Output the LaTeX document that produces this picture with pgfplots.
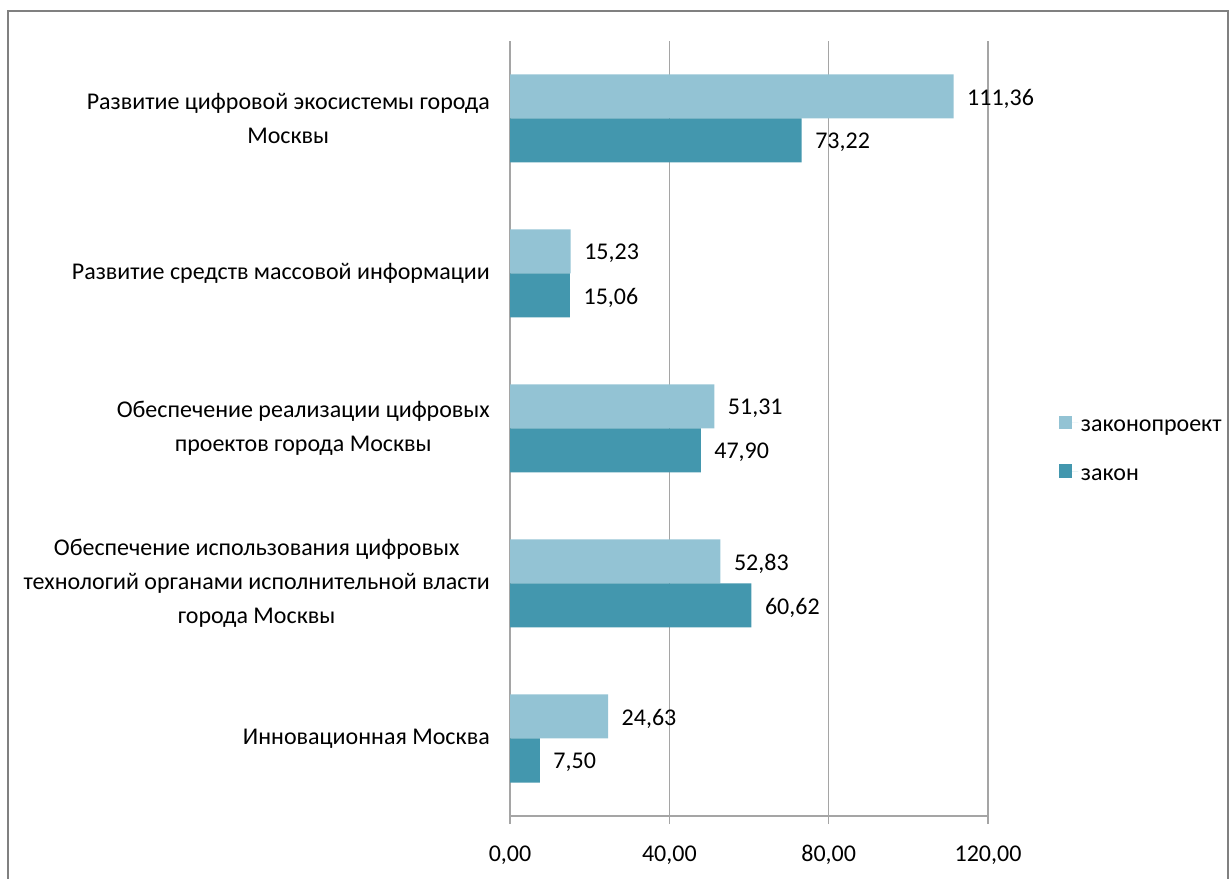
\documentclass[border=0pt]{standalone}
\usepackage{pgfplots}
\pgfplotsset{compat=1.18}
\usepackage{fontspec}
\setmainfont{Carlito}

\definecolor{lightbar}{RGB}{147,195,212}
\definecolor{darkbar}{RGB}{67,151,174}
\definecolor{axgray}{RGB}{165,165,165}
\definecolor{framegray}{RGB}{128,128,128}

\begin{document}
\fontsize{18}{25.5}\selectfont
\begin{tikzpicture}
\clip (0,0) rectangle (923.25pt,658.5pt);
\useasboundingbox (0,0) rectangle (923.25pt,658.5pt);
% frame around the chart
\draw[framegray, line width=1.5pt] (6pt,-10pt) -- (6pt,650.25pt) -- (921pt,650.25pt) -- (921pt,-10pt);
\begin{axis}[
  at={(382.5pt,46.5pt)}, anchor=south west,
  scale only axis,
  width=358.5pt, height=581.25pt,
  xbar, bar width=33pt,
  xmin=0, xmax=120,
  ymin=-0.5, ymax=4.5,
  axis lines*=left,
  axis line style={axgray, line width=0.9pt},
  xtick={0,40,80,120},
  xmajorgrids, grid style={axgray, line width=0.9pt},
  tick align=outside,
  tick style={axgray, line width=0.9pt},
  major tick length=6pt,
  xticklabel style={yshift=-10pt, font=\fontsize{18}{22}\selectfont,
    /pgf/number format/fixed, /pgf/number format/fixed zerofill,
    /pgf/number format/precision=2, /pgf/number format/use comma,
    /pgf/number format/assume math mode=true},
  ytick={0,1,2,3,4},
  yticklabels={
    Инновационная Москва,
    {Обеспечение использования цифровых\\технологий органами исполнительной власти\\города Москвы},
    {Обеспечение реализации цифровых\\проектов города Москвы},
    Развитие средств массовой информации,
    {Развитие цифровой экосистемы города\\Москвы}},
  yticklabel style={align=center, inner sep=0pt, xshift=-9pt, font=\fontsize{18}{25.5}\selectfont},
  y tick style={draw=none},
  extra y ticks={-0.5,0.5,1.5,2.5,3.5,4.5},
  extra y tick labels={},
  extra y tick style={tick style={axgray, line width=0.9pt}, major tick length=6pt},
  nodes near coords,
  nodes near coords style={anchor=west, inner sep=0pt, xshift=10pt, yshift=-1.5pt, black, font=\fontsize{18}{22}\selectfont,
    /pgf/number format/fixed, /pgf/number format/fixed zerofill,
    /pgf/number format/precision=2, /pgf/number format/use comma,
    /pgf/number format/assume math mode=true},
  legend cell align=left,
  legend style={at={(axis description cs:1,0.5)}, anchor=west, xshift=50pt, yshift=-17pt,
    draw=none, fill=none, row sep=20pt, font=\fontsize{18}{22}\selectfont},
  legend image code/.code={\fill[#1] (0pt,-1pt) rectangle (10pt,9pt); \path (0pt,4pt) -- (14.5pt,4pt);},
  clip=false,
]
\addplot[fill=lightbar, draw=none, bar shift=16.5pt] coordinates {
  (24.63,0) (52.83,1) (51.31,2) (15.23,3) (111.36,4)};
\addplot[fill=darkbar, draw=none, bar shift=-16.5pt] coordinates {
  (7.50,0) (60.62,1) (47.90,2) (15.06,3) (73.22,4)};
\legend{законопроект, закон}
\end{axis}
\end{tikzpicture}
\end{document}
